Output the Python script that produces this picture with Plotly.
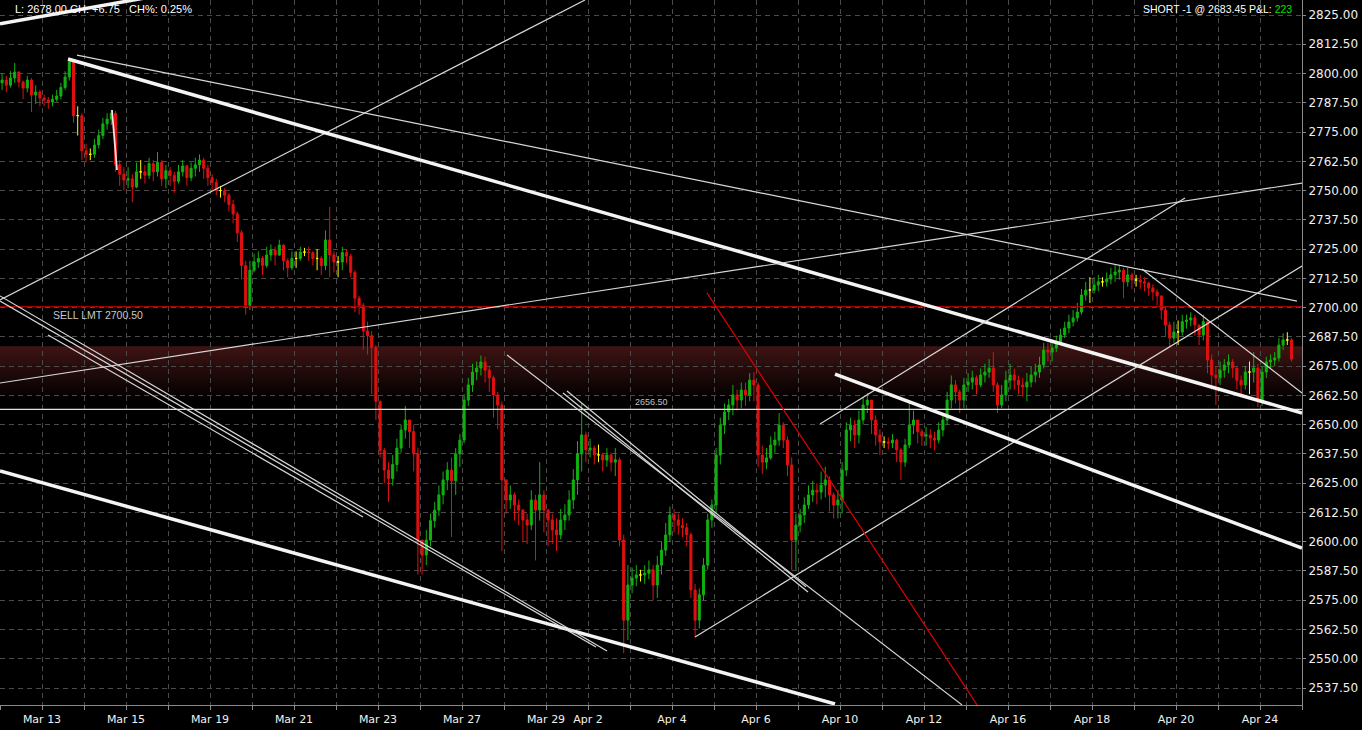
import plotly.graph_objects as go

# ---------------- data ----------------
days = ["Mar 12", "Mar 13", "Mar 14", "Mar 15", "Mar 16", "Mar 19", "Mar 20", "Mar 21",
        "Mar 22", "Mar 23", "Mar 26", "Mar 27", "Mar 28", "Mar 29", "Apr 2", "Apr 3",
        "Apr 4", "Apr 5", "Apr 6", "Apr 9", "Apr 10", "Apr 11", "Apr 12", "Apr 13",
        "Apr 16", "Apr 17", "Apr 18", "Apr 19", "Apr 20", "Apr 23", "Apr 24"]
label_days = ["Mar 13", "Mar 15", "Mar 19", "Mar 21", "Mar 23", "Mar 27", "Mar 29", "Apr 2",
              "Apr 4", "Apr 6", "Apr 10", "Apr 12", "Apr 16", "Apr 18", "Apr 20", "Apr 24"]
bars_per_day = [10] * 30 + [8]

first_open = 2796.0
close = [
    2797.2, 2795.0, 2798.1, 2800.6, 2796.4, 2793.8, 2797.2, 2790.8, 2792.1, 2789.5,
    2788.7, 2787.8, 2789.0, 2790.4, 2794.0, 2798.5, 2805.0, 2782.0, 2782.0, 2767.0,
    2765.5, 2765.5, 2769.5, 2773.5, 2778.5, 2780.5, 2783.0, 2761.0, 2757.0, 2754.5,
    2755.0, 2751.5, 2758.0, 2758.0, 2756.5, 2761.5, 2758.0, 2762.0, 2755.0, 2758.5,
    2756.5, 2754.0, 2758.0, 2760.5, 2755.5, 2759.5, 2761.0, 2763.0, 2759.5, 2755.5,
    2753.5, 2750.0, 2750.0, 2748.0, 2744.0, 2740.0, 2732.0, 2718.0, 2701.0, 2716.0,
    2719.5, 2721.0, 2718.0, 2722.5, 2724.6, 2722.5, 2726.7, 2720.0, 2717.0, 2721.0,
    2721.0, 2723.7, 2723.7, 2723.5, 2721.0, 2721.0, 2718.0, 2728.9, 2722.5, 2719.5,
    2719.5, 2723.5, 2722.0, 2715.0, 2704.0, 2701.0, 2690.0, 2688.0, 2683.0, 2660.0,
    2639.0, 2630.6, 2627.0, 2633.0, 2640.0, 2647.7, 2652.0, 2647.0, 2637.5, 2600.7,
    2594.3, 2600.7, 2609.0, 2613.5, 2620.0, 2626.4, 2630.6, 2626.0, 2637.5, 2643.4,
    2660.5, 2667.0, 2672.5, 2674.2, 2676.8, 2673.3, 2670.0, 2662.7, 2658.4, 2626.4,
    2617.8, 2620.0, 2615.7, 2613.5, 2609.3, 2607.1, 2617.8, 2613.5, 2620.0, 2613.5,
    2609.3, 2605.0, 2602.9, 2609.3, 2611.4, 2617.8, 2626.4, 2637.5, 2645.6, 2639.2,
    2640.0, 2637.1, 2637.1, 2634.9, 2637.0, 2634.0, 2635.0, 2600.7, 2566.5, 2581.5,
    2584.5, 2585.8, 2585.8, 2586.5, 2588.0, 2581.5, 2590.0, 2596.4, 2602.9, 2611.4,
    2609.3, 2607.0, 2606.0, 2603.0, 2579.4, 2566.5, 2577.3, 2590.0, 2609.3, 2615.7,
    2637.0, 2649.8, 2655.4, 2658.4, 2662.7, 2660.5, 2664.8, 2662.7, 2669.0, 2667.0,
    2637.0, 2634.0, 2635.8, 2641.3, 2643.4, 2649.8, 2643.4, 2632.8, 2600.7, 2607.1,
    2611.4, 2615.7, 2620.0, 2622.0, 2621.2, 2624.2, 2626.4, 2620.0, 2615.7, 2617.8,
    2630.6, 2647.7, 2649.8, 2645.6, 2652.0, 2658.4, 2660.5, 2652.0, 2645.6, 2642.6,
    2642.6, 2642.2, 2643.4, 2639.2, 2634.0, 2641.3, 2649.8, 2652.0, 2647.0, 2645.2,
    2645.6, 2644.3, 2643.4, 2647.7, 2652.0, 2660.5, 2667.0, 2664.0, 2660.5, 2667.0,
    2668.2, 2670.0, 2667.0, 2671.2, 2672.5, 2674.2, 2667.0, 2658.4, 2662.7, 2669.0,
    2671.2, 2669.0, 2667.0, 2666.1, 2668.2, 2671.2, 2672.5, 2675.5, 2681.9, 2681.0,
    2682.7, 2685.3, 2688.3, 2691.3, 2693.9, 2695.6, 2698.1, 2705.4, 2707.5, 2707.5,
    2709.7, 2711.0, 2711.0, 2712.2, 2714.0, 2715.2, 2716.0, 2711.0, 2714.0, 2711.8,
    2711.8, 2711.0, 2710.5, 2708.4, 2706.7, 2705.0, 2699.0, 2692.6, 2687.0, 2689.6,
    2689.6, 2694.0, 2694.7, 2695.6, 2692.6, 2688.3, 2694.0, 2677.6, 2671.2, 2670.0,
    2673.3, 2675.5, 2676.8, 2674.2, 2669.0, 2667.0, 2672.5, 2672.5, 2674.2, 2660.5,
    2672.5, 2676.8, 2677.6, 2678.5, 2684.0, 2686.2, 2686.2, 2678.0,
]
high = [
    2800.0, 2799.0, 2801.0, 2804.5, 2801.0, 2797.0, 2799.0, 2798.0, 2795.0, 2793.0,
    2791.0, 2790.0, 2791.0, 2793.0, 2796.0, 2801.0, 2806.5, 2805.0, 2786.0, 2783.0,
    2770.0, 2768.0, 2772.0, 2776.0, 2781.0, 2783.0, 2784.5, 2784.0, 2763.0, 2760.0,
    2760.0, 2757.0, 2762.0, 2763.0, 2761.0, 2764.0, 2763.0, 2766.5, 2763.0, 2761.0,
    2760.0, 2758.0, 2761.0, 2763.0, 2761.0, 2762.0, 2764.0, 2765.5, 2764.0, 2761.0,
    2757.0, 2755.0, 2752.0, 2751.0, 2749.0, 2746.0, 2741.0, 2733.0, 2720.0, 2720.0,
    2723.0, 2724.0, 2722.0, 2726.0, 2727.0, 2726.0, 2729.0, 2727.0, 2721.0, 2724.0,
    2724.0, 2726.0, 2725.5, 2726.0, 2724.0, 2725.0, 2722.0, 2733.0, 2743.0, 2724.0,
    2722.0, 2726.0, 2725.0, 2723.0, 2716.0, 2705.0, 2702.0, 2694.0, 2690.0, 2684.0,
    2655.0, 2640.0, 2634.0, 2637.0, 2644.0, 2650.0, 2658.0, 2652.0, 2650.0, 2640.0,
    2600.0, 2605.0, 2612.0, 2617.0, 2624.0, 2630.0, 2634.0, 2636.0, 2640.0, 2646.0,
    2663.0, 2670.0, 2676.0, 2677.0, 2679.5, 2679.0, 2675.0, 2671.0, 2664.0, 2660.0,
    2623.0, 2624.0, 2621.0, 2618.0, 2614.0, 2612.0, 2622.0, 2620.0, 2634.0, 2622.0,
    2614.0, 2612.0, 2610.0, 2614.0, 2616.0, 2622.0, 2631.0, 2643.0, 2659.0, 2647.0,
    2644.0, 2641.0, 2641.5, 2638.0, 2640.0, 2638.0, 2640.0, 2636.0, 2603.0, 2590.0,
    2589.0, 2590.0, 2588.0, 2590.0, 2592.0, 2590.0, 2594.0, 2600.0, 2608.0, 2615.0,
    2614.0, 2612.0, 2610.0, 2608.0, 2604.0, 2582.0, 2580.0, 2593.0, 2612.0, 2618.0,
    2640.0, 2653.0, 2659.0, 2661.0, 2667.0, 2665.0, 2668.0, 2668.0, 2672.0, 2672.5,
    2668.0, 2641.0, 2640.0, 2645.0, 2647.0, 2655.0, 2651.0, 2645.0, 2636.0, 2612.0,
    2614.0, 2619.0, 2624.0, 2626.0, 2625.0, 2630.0, 2632.0, 2628.0, 2621.0, 2622.0,
    2634.0, 2651.0, 2653.0, 2652.0, 2656.0, 2662.0, 2663.5, 2660.0, 2654.0, 2648.0,
    2645.0, 2644.5, 2646.0, 2644.0, 2640.0, 2644.0, 2660.0, 2656.0, 2651.0, 2648.0,
    2649.0, 2648.0, 2647.0, 2651.0, 2655.0, 2664.0, 2671.0, 2669.0, 2665.0, 2670.0,
    2672.0, 2673.0, 2671.0, 2674.0, 2676.0, 2678.0, 2681.0, 2668.0, 2667.0, 2673.0,
    2676.0, 2674.0, 2671.0, 2670.0, 2672.0, 2675.0, 2676.0, 2679.0, 2685.0, 2685.0,
    2686.0, 2688.0, 2691.0, 2694.0, 2697.0, 2699.0, 2702.0, 2708.0, 2711.0, 2713.0,
    2713.0, 2714.0, 2713.0, 2715.0, 2717.0, 2718.2, 2718.2, 2717.0, 2717.0, 2715.0,
    2714.0, 2714.0, 2713.0, 2711.0, 2710.0, 2708.0, 2705.0, 2700.0, 2694.0, 2694.0,
    2694.5, 2697.0, 2697.0, 2698.0, 2697.0, 2692.0, 2697.0, 2695.0, 2680.0, 2675.0,
    2677.0, 2678.0, 2680.0, 2678.0, 2674.0, 2671.0, 2675.0, 2677.0, 2681.0, 2676.0,
    2675.0, 2679.0, 2680.0, 2681.0, 2687.0, 2689.0, 2689.5, 2687.0,
]
low = [
    2793.0, 2792.0, 2794.0, 2796.0, 2794.0, 2789.0, 2792.0, 2783.5, 2787.0, 2786.0,
    2786.0, 2785.0, 2786.0, 2788.0, 2789.0, 2793.0, 2797.0, 2779.0, 2773.5, 2763.0,
    2762.0, 2763.0, 2764.0, 2768.0, 2772.0, 2776.0, 2778.0, 2758.0, 2752.0, 2750.0,
    2751.0, 2745.0, 2751.0, 2755.0, 2753.0, 2755.0, 2754.0, 2756.0, 2752.0, 2751.0,
    2752.0, 2749.0, 2753.0, 2756.0, 2752.0, 2754.0, 2756.0, 2758.0, 2755.0, 2752.0,
    2750.0, 2748.0, 2747.0, 2745.0, 2741.0, 2736.0, 2728.0, 2712.0, 2697.0, 2699.0,
    2715.0, 2717.0, 2714.0, 2717.0, 2720.0, 2718.0, 2722.0, 2716.0, 2713.0, 2716.0,
    2717.0, 2720.0, 2722.0, 2720.0, 2718.0, 2716.0, 2714.0, 2716.0, 2713.0, 2715.0,
    2713.0, 2716.0, 2719.0, 2713.0, 2698.0, 2697.0, 2682.0, 2680.0, 2663.0, 2652.0,
    2636.0, 2625.0, 2617.0, 2624.0, 2630.0, 2638.0, 2644.0, 2640.0, 2630.0, 2586.0,
    2586.0, 2590.0, 2598.0, 2606.0, 2611.0, 2616.0, 2622.0, 2602.0, 2620.0, 2632.0,
    2642.0, 2658.0, 2664.0, 2669.0, 2671.0, 2668.0, 2664.0, 2653.0, 2648.0, 2596.0,
    2612.0, 2614.0, 2609.0, 2607.0, 2600.0, 2599.0, 2605.0, 2592.0, 2609.0, 2604.0,
    2598.0, 2599.0, 2596.0, 2601.0, 2605.0, 2609.0, 2614.0, 2620.0, 2630.0, 2634.0,
    2636.0, 2633.0, 2634.0, 2630.0, 2632.0, 2630.0, 2628.0, 2598.0, 2552.4, 2558.0,
    2578.0, 2581.0, 2583.0, 2582.0, 2584.0, 2575.0, 2576.0, 2586.0, 2594.0, 2600.0,
    2604.0, 2603.0, 2602.0, 2598.0, 2576.0, 2559.3, 2563.0, 2575.0, 2588.0, 2606.0,
    2612.0, 2633.0, 2646.0, 2652.0, 2654.0, 2656.0, 2657.0, 2658.0, 2660.0, 2660.0,
    2632.0, 2629.0, 2631.0, 2635.0, 2638.0, 2641.0, 2640.0, 2628.0, 2587.8, 2588.0,
    2604.0, 2608.0, 2614.0, 2617.0, 2616.0, 2618.0, 2619.0, 2613.0, 2610.0, 2610.0,
    2612.0, 2628.0, 2643.0, 2640.0, 2642.0, 2650.0, 2655.0, 2646.0, 2641.0, 2637.0,
    2640.0, 2639.5, 2640.0, 2634.0, 2626.4, 2632.0, 2640.0, 2646.0, 2642.0, 2641.0,
    2641.0, 2640.0, 2639.0, 2642.0, 2645.0, 2650.0, 2657.0, 2659.0, 2655.0, 2657.0,
    2664.0, 2665.0, 2663.0, 2666.0, 2668.0, 2670.0, 2664.0, 2655.0, 2657.0, 2660.0,
    2665.0, 2665.0, 2663.0, 2662.0, 2660.0, 2666.0, 2668.0, 2670.0, 2674.0, 2677.0,
    2677.0, 2681.0, 2684.0, 2687.0, 2689.0, 2692.0, 2694.0, 2697.0, 2703.0, 2702.0,
    2706.0, 2707.0, 2709.0, 2709.0, 2710.0, 2711.0, 2712.0, 2704.0, 2709.0, 2708.0,
    2709.0, 2708.0, 2707.0, 2705.0, 2703.0, 2701.0, 2695.0, 2688.0, 2683.0, 2685.0,
    2684.0, 2688.0, 2691.0, 2692.0, 2688.0, 2684.0, 2686.0, 2672.0, 2665.0, 2658.4,
    2667.0, 2670.0, 2672.0, 2670.0, 2665.0, 2663.0, 2665.0, 2663.0, 2668.0, 2657.5,
    2658.0, 2670.0, 2674.0, 2675.0, 2677.0, 2682.0, 2684.0, 2677.0,
]

sell_limit = 2700.50
level_line = 2656.50
short_entry = 2683.45
band_floor = 2660.5

# drawn trend lines: (day0, price0, day1, price1, width, color)
trend_lines = [
    (0.000, 2821.2, 4.762, 2836.5, 3.5, "#f4f4f4"),
    (0.000, 2703.3, 13.929, 2831.4, 1.2, "#d8d8d8"),
    (1.619, 2806.2, 31.000, 2655.0, 3.5, "#f4f4f4"),
    (1.833, 2807.9, 30.881, 2702.8, 1.2, "#d8d8d8"),
    (0.000, 2667.8, 31.000, 2753.2, 1.2, "#d8d8d8"),
    (16.548, 2559.3, 31.000, 2717.8, 1.2, "#d8d8d8"),
    (19.524, 2650.3, 28.214, 2746.8, 1.2, "#d8d8d8"),
    (19.881, 2671.6, 31.000, 2597.3, 3.5, "#f4f4f4"),
    (0.000, 2630.2, 19.881, 2530.7, 3.5, "#f4f4f4"),
    (0.000, 2705.0, 14.452, 2553.3, 1.2, "#d8d8d8"),
    (0.000, 2702.8, 14.190, 2555.0, 1.2, "#d8d8d8"),
    (1.143, 2688.3, 8.643, 2610.6, 1.2, "#d8d8d8"),
    (13.405, 2663.5, 19.238, 2578.5, 1.2, "#d8d8d8"),
    (13.500, 2664.4, 19.190, 2580.7, 1.2, "#d8d8d8"),
    (12.071, 2679.8, 22.905, 2530.3, 1.2, "#d8d8d8"),
    (16.833, 2706.3, 23.262, 2530.3, 1.2, "#dd0000"),
    (27.190, 2716.5, 31.000, 2663.5, 1.2, "#d8d8d8"),
    (2.667, 2784.4, 2.786, 2758.8, 1.8, "#f0e0e0"),
]

# ---------------- build bars ----------------
x = []
for d, n in enumerate(bars_per_day):
    for j in range(n):
        x.append(d + (j + 0.5) / 10)
opens = [first_open] + close[:-1]
hi = [max(h, o, c) for h, o, c in zip(high, opens, close)]
lo = [min(l, o, c) for l, o, c in zip(low, opens, close)]

GREEN = "#10b010"
RED = "#e01010"
YELLOW = "#ffff00"

groups = {"up": [], "down": [], "doji": []}
for i, (o, c) in enumerate(zip(opens, close)):
    if abs(c - o) < 1e-9:
        groups["doji"].append(i)
    elif c > o:
        groups["up"].append(i)
    else:
        groups["down"].append(i)

fig = go.Figure()
for name, col in (("up", GREEN), ("down", RED), ("doji", YELLOW)):
    idx = groups[name]
    fig.add_trace(go.Candlestick(
        x=[x[i] for i in idx], open=[opens[i] for i in idx], high=[hi[i] for i in idx],
        low=[lo[i] for i in idx], close=[close[i] for i in idx],
        increasing=dict(line=dict(color=col, width=1), fillcolor=col),
        decreasing=dict(line=dict(color=col, width=1), fillcolor=col),
        whiskerwidth=0, hoverinfo="skip", showlegend=False,
    ))

shapes = []
# shaded position band with fade (slices overlap to avoid seams)
n_slices = 24
span = short_entry - band_floor
for k in range(n_slices):
    t0 = k / n_slices
    y_top = short_entry - span * t0
    y_bot = max(band_floor, short_entry - span * (k + 1.6) / n_slices)
    f = 1 - t0
    r, g, b = int(62 * f), int(20 * f), int(20 * f)
    shapes.append(dict(type="rect", xref="x", yref="y", x0=0, x1=31, y0=y_bot, y1=y_top,
                       fillcolor=f"rgb({r},{g},{b})", line=dict(width=0), layer="below"))
shapes.append(dict(type="line", xref="x", yref="y", x0=0, x1=31, y0=sell_limit, y1=sell_limit,
                   line=dict(color="#b00000", width=1), layer="above"))
shapes.append(dict(type="line", xref="x", yref="y", x0=0, x1=31, y0=level_line, y1=level_line,
                   line=dict(color="#e0e0e0", width=1.3), layer="above"))
for (x0, y0, x1, y1, w, col) in trend_lines:
    shapes.append(dict(type="line", xref="x", yref="y", x0=x0, y0=y0, x1=x1, y1=y1,
                       line=dict(color=col, width=w), layer="above"))

label_pos = [days.index(d) for d in label_days]
GRID = "#4a4a4a"
AXIS = "#8a8a8a"

fig.update_layout(
    width=1362, height=730,
    margin=dict(l=0, r=60, t=0, b=25, autoexpand=False),
    paper_bgcolor="black", plot_bgcolor="black",
    showlegend=False,
    font=dict(family="DejaVu Sans", color="#f0f0f0", size=11),
    shapes=shapes,
    xaxis=dict(
        range=[0, 31], tickmode="array", tickvals=label_pos, ticktext=label_days,
        showgrid=True, gridcolor=GRID, griddash="5px,4px", gridwidth=1,
        ticks="outside", ticklen=4, tickcolor=AXIS,
        showline=True, linecolor=AXIS, linewidth=1, zeroline=False,
        tickfont=dict(family="DejaVu Sans", size=11, color="#f0f0f0"),
        rangeslider=dict(visible=False), fixedrange=True,
        minor=dict(tickmode="linear", tick0=0, dtick=1, showgrid=True, gridcolor=GRID,
                   griddash="5px,4px", ticks="outside", ticklen=4, tickcolor=AXIS),
    ),
    yaxis=dict(
        side="right", range=[2530.25, 2831.41], tickmode="linear", tick0=2537.5, dtick=12.5,
        tickformat=".2f", showgrid=True, gridcolor=GRID, griddash="5px,4px", gridwidth=1,
        showline=True, linecolor=AXIS, linewidth=1, zeroline=False,
        ticks="outside", ticklen=3, tickcolor=AXIS,
        tickfont=dict(family="DejaVu Sans", size=12, color="#f0f0f0"), fixedrange=True,
    ),
    annotations=[
        dict(xref="paper", yref="paper", x=13 / 1302, y=1, xanchor="left", yanchor="top",
             yshift=-1, showarrow=False,
             text="L: 2678.00 CH: +6.75\u00a0\u00a0\u00a0CH%: 0.25%",
             font=dict(family="Liberation Sans", size=11, color="#ffffff")),
        dict(xref="paper", yref="paper", x=1294 / 1302, y=1, xanchor="right", yanchor="top",
             yshift=-1, showarrow=False,
             text="SHORT -1 @ 2683.45 P&L: <span style='color:#00e000'>223</span>",
             font=dict(family="Liberation Sans", size=10.5, color="#ffffff")),
        dict(xref="x", yref="y", x=51 / 42, y=sell_limit, xanchor="left", yanchor="top",
             yshift=-1, showarrow=False, text="SELL LMT 2700.50",
             font=dict(family="Liberation Sans", size=10.5, color="#c8c8c8")),
        dict(xref="x", yref="y", x=651 / 42, y=level_line, xanchor="center", yanchor="bottom",
             yshift=0, showarrow=False, text="2656.50",
             font=dict(family="Liberation Sans", size=9, color="#c0c0c0")),
    ],
)

fig.write_html("out.html", config={"displayModeBar": False},
               post_script="document.body.style.margin='0px';")
